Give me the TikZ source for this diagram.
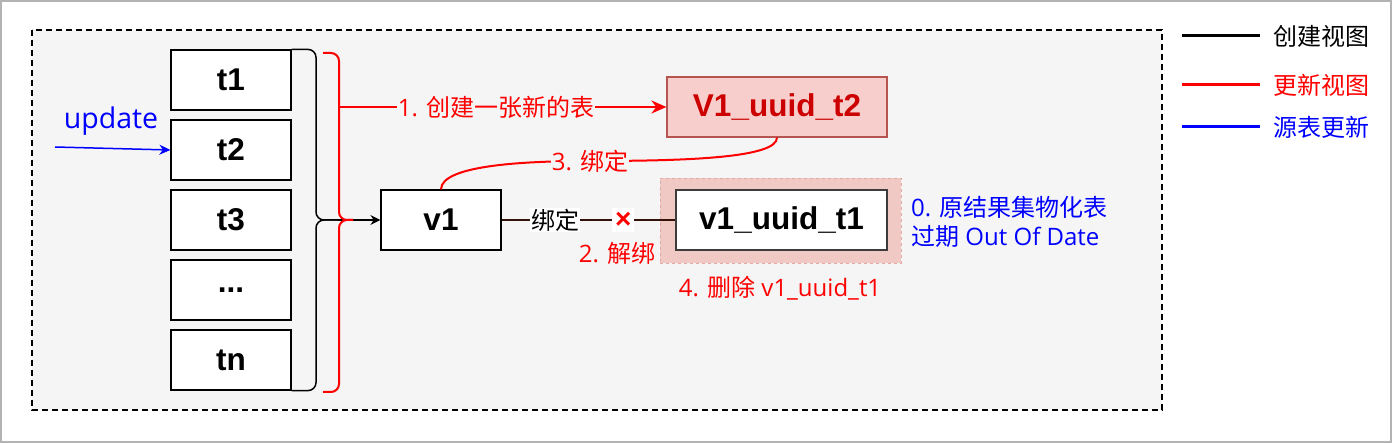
\documentclass[tikz,border=0pt]{standalone}
\usepackage{fontspec}
\setmainfont{Liberation Sans}
\newfontfamily\cjk{Noto Sans CJK SC}
\newfontfamily\lat{Open Sans}
\usetikzlibrary{arrows.meta, positioning}
\definecolor{myred}{RGB}{255,0,0}
\definecolor{myblue}{RGB}{0,0,255}
\definecolor{mydark}{RGB}{0,0,0}
\definecolor{mybrown}{RGB}{51,17,8}
\definecolor{bggray}{RGB}{245,245,245}
\definecolor{framegray}{RGB}{179,179,179}
\definecolor{hdrred}{RGB}{248,206,204}
\definecolor{edgered}{RGB}{184,84,80}
\definecolor{txtred}{RGB}{204,0,0}
\definecolor{oldbg}{RGB}{240,200,196}
\definecolor{oldedge}{RGB}{225,170,165}
\definecolor{boxgray}{RGB}{60,60,60}
\newcommand{\lblfont}{\fontsize{24}{29}\selectfont\lat}
\newcommand{\boxfont}{\fontsize{31.5}{35}\selectfont\bfseries}
\tikzset{
  table/.style={rectangle, draw=mydark, fill=white,
    minimum width=120pt, minimum height=60pt, inner sep=0pt,
    font=\boxfont, line width=1.2pt},
  newbox/.style={rectangle, draw=edgered, fill=hdrred, text=txtred,
    minimum width=220pt, minimum height=60pt, inner sep=0pt,
    font=\boxfont, line width=1.2pt},
  oldbox/.style={rectangle, draw=boxgray, fill=white,
    minimum width=211pt, minimum height=60pt, inner sep=0pt,
    font=\boxfont, line width=1.2pt},
  oldshade/.style={rectangle, draw=oldedge, fill=oldbg, dashed,
    minimum width=241pt, minimum height=85pt, line width=0.6pt},
  lbl/.style={font=\lblfont, inner sep=1pt},
  arrow/.style={-{Stealth[length=10pt, width=10pt]}, line width=1.3pt, color=mydark},
  redarrow/.style={-{Stealth[length=15pt, width=13pt]}, line width=2pt, color=myred},
  bluearrow/.style={-{Stealth[length=11pt, width=10pt]}, line width=1.5pt, color=myblue},
  line/.style={line width=1.5pt, color=mydark},
  redline/.style={line width=2pt, color=myred},
  bindline/.style={line width=2.2pt, color=mybrown}
}
\begin{document}
\begin{tikzpicture}[x=1pt, y=-1pt]
  \useasboundingbox (0,0) rectangle (1392,443);
  % Frame and container
  \draw[framegray, line width=2pt, fill=white] (1,1) rectangle (1391,442);
  \draw[line width=1.3pt, fill=bggray, dash pattern=on 6pt off 4pt] (32,30) rectangle (1162,410);

  % Source tables
  \node[table] (t1) at (231,80) {t1};
  \node[table] (t2) at (231,150) {t2};
  \node[table] (t3) at (231,220) {t3};
  \node[table] (tdots) at (231,290) {...};
  \node[table] (tn) at (231,360) {tn};

  % Source update
  \coordinate (src) at (55,147);
  \node[font=\fontsize{28.5}{32}\selectfont\lat, color=myblue] (upd) at (111,121) {update};
  \draw[bluearrow] (src) -- (t2.west);

  % Views
  \node[table] (v1) at (441,220) {v1};
  \node[newbox] (newview) at (777,107) {V1\_uuid\_t2};
  \node[oldshade] (oldbg) at (780.5,220.5) {};
  \node[oldbox] (oldview) at (781.5,220) {v1\_uuid\_t1};

  % Black brace
  \coordinate (btip) at (338,220);
  \draw[line, rounded corners=8pt] (t1.north east) -| (316,220) -- (btip);
  \draw[line, rounded corners=8pt] (tn.south east) -| (316,220) -- (btip);
  \draw[arrow] (btip) -- (v1);

  % Red brace
  \coordinate (rtip) at (353,220);
  \coordinate (rstem) at (339,107);
  \draw[redline, rounded corners=8pt] (323,53) -| (339,220) -- (rtip);
  \draw[redline, rounded corners=8pt] (323,392) -| (339,220) -- (rtip);
  \draw[redarrow] (rstem) -- (newview)
    node[lbl, pos=0.48, fill=bggray, text=myred] (step1) {1. {\cjk 创建一张新的表}};

  % Binding
  \draw[bindline] (v1) -- (oldview)
    node[lbl, pos=0.31, fill=white, text=mydark] (bind) {\cjk 绑定}
    node[pos=0.70, fill=white, text=myred, font=\fontsize{28}{30}\selectfont\bfseries,
      inner xsep=3pt, inner ysep=4pt] (cut) {×};
  \node[lbl, text=myred] (step2) at (617,253) {2. {\cjk 解绑}};

  % Rebinding
  \coordinate (bind3) at (590,161);
  \draw[redline] (v1.north) .. controls +(0,-25) and +(-60,0) .. (bind3)
    .. controls +(100,0) and +(0,20) .. (newview.south);
  \node[lbl, fill=bggray, text=myred] (step3) at (bind3) {3. {\cjk 绑定}};
  \node[lbl, text=myred] (step4) at (780,288) {4. {\cjk 删除} v1\_uuid\_t1};
  \node[lbl, text=myblue, anchor=west, align=left] (step0) at (910,222)
    {0. {\cjk 原结果集物化表}\\{\cjk 过期} Out Of Date};

  % Legend
  \node[lbl, anchor=west, text=mydark] (lg1) at (1272,36) {\cjk 创建视图};
  \node[lbl, anchor=west, text=myred] (lg2) at (1272,85) {\cjk 更新视图};
  \node[lbl, anchor=west, text=myblue] (lg3) at (1272,127) {\cjk 源表更新};
  \draw[mydark, line width=3pt] ([xshift=-90pt]lg1.west) -- ([xshift=-12pt]lg1.west);
  \draw[myred, line width=3pt] ([xshift=-90pt]lg2.west) -- ([xshift=-12pt]lg2.west);
  \draw[myblue, line width=3pt] ([xshift=-90pt]lg3.west) -- ([xshift=-12pt]lg3.west);
\end{tikzpicture}
\end{document}
